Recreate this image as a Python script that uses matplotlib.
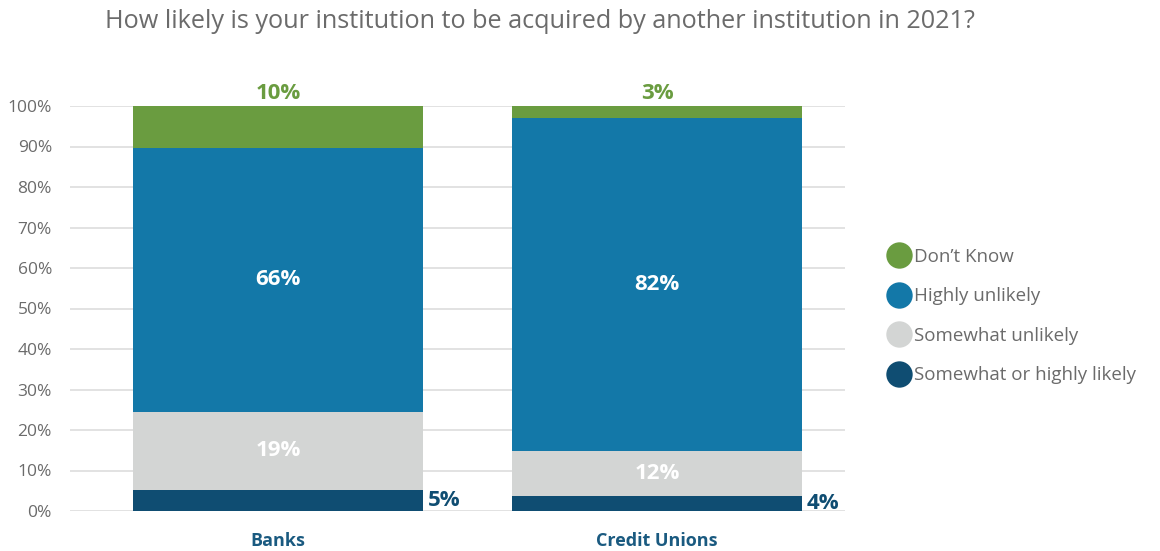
import matplotlib
matplotlib.use("Agg")
import matplotlib.pyplot as plt
from matplotlib.lines import Line2D
import numpy as np

plt.rcParams['font.family'] = ['Open Sans', 'DejaVu Sans']

# data (percent of respondents)
categories = ['Banks', 'Credit Unions']
series = ['Somewhat or highly likely', 'Somewhat unlikely', 'Highly unlikely', "Don\u2019t Know"]
banks = [5.2, 19.3, 65.1, 10.4]
credit_unions = [3.8, 11.1, 82.2, 2.9]
banks_labels = ['5%', '19%', '66%', '10%']
cu_labels = ['4%', '12%', '82%', '3%']

colors = ['#0f4d72', '#d3d5d4', '#1378a8', '#6a9c40']

fig = plt.figure(figsize=(11.6, 5.51), dpi=100)
ax = fig.add_axes([70/1160, 40/551, 775/1160, 405/551])

vals = np.array([banks, credit_unions])
labs = [banks_labels, cu_labels]
x = np.arange(len(categories))
w = 0.765
bottom = np.zeros(len(categories))
for j in range(len(series)):
    ax.bar(x, vals[:, j], w, bottom=bottom, color=colors[j], edgecolor='none', zorder=2)
    for i in range(len(categories)):
        y0 = bottom[i]
        h = vals[i, j]
        t = labs[i][j]
        if j == 0:
            ax.text(x[i] + w/2 + 0.012, y0 + h/2, t, ha='left', va='center',
                    color=colors[0], fontsize=16, fontweight='bold')
        elif j == 3:
            ax.text(x[i], 100.4, t, ha='center', va='bottom',
                    color=colors[3], fontsize=16, fontweight='bold')
        else:
            ax.text(x[i], y0 + h/2, t, ha='center', va='center',
                    color='white', fontsize=16, fontweight='bold')
    bottom += vals[:, j]

ax.set_ylim(0, 100)
ax.set_xlim(-0.549, 1.496)
ax.set_yticks(np.arange(0, 101, 10))
ax.set_yticklabels([f'{v}%' for v in range(0, 101, 10)], color='#6b6b6b', fontsize=12.5)
ax.set_xticks(x)
ax.set_xticklabels(categories, color='#1a5a80', fontsize=13, fontweight='bold')
ax.tick_params(axis='both', length=0)
ax.tick_params(axis='y', pad=13)
ax.tick_params(axis='x', pad=15)
ax.yaxis.grid(True, color='#dddddd', linewidth=1.2, zorder=0)
ax.set_axisbelow(True)
for s in ax.spines.values():
    s.set_visible(False)

fig.text(105/1160, 1 - 22/551, 'How likely is your institution to be acquired by another institution in 2021?',
         ha='left', va='center', color='#6b6b6b', fontsize=18.2)

handles = [Line2D([], [], marker='o', linestyle='none', markersize=19,
                  markerfacecolor=colors[j], markeredgecolor='none', label=series[j])
           for j in [3, 2, 1, 0]]
leg = fig.legend(handles=handles, loc='center left', bbox_to_anchor=(871/1160, 1 - 316/551),
                 frameon=False, fontsize=13.5, labelspacing=1.15, handletextpad=0.2,
                 handlelength=1.2, labelcolor='#6b6b6b')

fig.savefig('out.png', dpi=100)
